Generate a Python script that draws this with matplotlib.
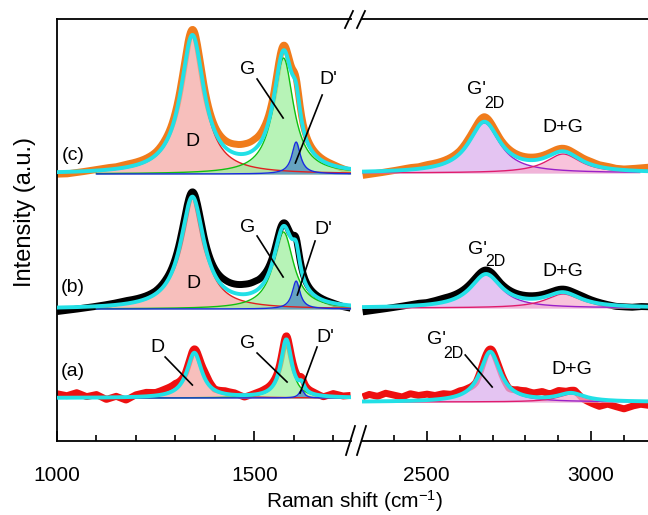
import numpy as np
import matplotlib
matplotlib.use("Agg")
import matplotlib.pyplot as plt
from matplotlib.lines import Line2D

plt.rcParams["font.family"] = ["Liberation Sans", "DejaVu Sans"]
plt.rcParams["mathtext.default"] = "regular"

# ---- peak fit parameters (centre, height, FWHM) ----
# first-order region: D, G, D'
c_left_center = [1343, 1574, 1606]
c_left_height = [137, 116, 32]
c_left_fwhm = [72, 62, 26]
b_left_center = [1343, 1574, 1606]
b_left_height = [111, 77, 28]
b_left_fwhm = [72, 62, 24]
a_left_center = [1348, 1581, 1620]
a_left_height = [45, 58, 8]
a_left_fwhm = [46, 34, 16]

# second-order region: G'2D, D+G
c_right_center = [2675, 2915]
c_right_height = [50, 19]
c_right_fwhm = [115, 130]
b_right_center = [2680, 2915]
b_right_height = [33, 14]
b_right_fwhm = [115, 130]
a_right_center = [2693, 2939]
a_right_height = [50, 8]
a_right_fwhm = [75, 100]

# vertical offsets of each spectrum
c_base = [267, 268]
b_base = [132, 133]
a_base = [43, 39]

# measured - fit, read every 25 cm-1
left_grid = list(range(1000, 1751, 25))
right_grid = list(range(2300, 3176, 25))
c_left_resid = [-2, -2, -1, 0, 1, 2, 2, 3, 3, 3, 3, 4, 4, 4, 6, 4, 5, 7, 9, 10, 10, 8, 4, 5, 6, 4, 3, 2, 1, -1, -3]
b_left_resid = [-4, -3, -2, -1, 0, 1, 2, 3, 3, 3, 3, 4, 4, 4, 5, 4, 6, 8, 9, 10, 10, 8, 4, 3, 4, 3, 2, 1, 0, -2, -3]
a_left_resid = [4, 2, 5, 1, 3, -2, 1, -3, 2, 4, 3, 5, 6, 2, 4, 7, 1, 3, 2, -2, 1, 3, 4, 3, 5, 3, 2, -1, 3, 1, 2]
c_right_resid = [-4, -3, -2, -1, 0, 1, 2, 2, 3, 3, 3, 3, 3, 4, 4, 5, 4, 3, 3, 3, 3, 3, 3, 3, 3, 3, 3, 3, 3, 2, 2, 1, 1, 2, 3, 4]
b_right_resid = [-5, -4, -3, -2, -1, 0, 1, 2, 2, 3, 4, 4, 4, 4, 4, 4, 4, 3, 3, 3, 3, 3, 3, 3, 3, 3, 3, 3, 2, 1, 0, -1, -1, -1, 0, 0]
a_right_resid = [4, 7, 5, 8, 6, 4, 7, 5, 6, 4, 5, 3, 4, 2, -2, 2, 3, 1, -2, 3, 5, 4, 6, 3, 5, 2, 3, -3, -5, -7, -4, -6, -8, -5, -3, -4]

data_colors = ["#f07c1c", "black", "#ee1010"]
fit_color = "#22e0e6"
left_fill = ["#f5aaa6", "#9ff09f", "#4a88c4"]
left_edge = ["#e02020", "#10c010", "#1a2de0"]
right_fill = ["#dcb0ee", "#f6afd0"]
right_edge = ["#9a20c8", "#e01c6c"]


def lorentz(x, x0, h, w):
    return h / (1 + ((x - x0) / (w / 2)) ** 2)


W, H = 648, 515
fig = plt.figure(figsize=(W / 100, H / 100), dpi=100)


def px_rect(x0, x1, ytop, ybot):
    return [x0 / W, 1 - ybot / H, (x1 - x0) / W, (ybot - ytop) / H]


def fpos(px, py):
    return px / W, 1 - py / H


axL = fig.add_axes(px_rect(57, 351, 19, 441))
axR = fig.add_axes(px_rect(362, 648, 19, 441))
axL.set_xlim(1000, 1745)
axR.set_xlim(2303, 3173)
for ax in (axL, axR):
    ax.set_ylim(0, 422)
    ax.set_yticks([])
    for s in ax.spines.values():
        s.set_linewidth(1.3)
axL.spines["right"].set_visible(False)
axR.spines["left"].set_visible(False)
axR.spines["right"].set_visible(False)

axL.set_xticks([1000, 1500])
axL.set_xticks(range(1100, 1800, 100), minor=True)
axR.set_xticks([2500, 3000])
axR.set_xticks([2400, 2600, 2700, 2800, 2900, 3100], minor=True)
for ax in (axL, axR):
    ax.tick_params(axis="x", which="major", direction="in", length=7.5, width=1.2,
                   labelsize=15, pad=18)
    ax.tick_params(axis="x", which="minor", direction="in", length=4, width=1.2)


def draw(ax, xlo, xhi, clo, chi, centers, heights, fwhms, base, grid, resid,
         dcolor, fills, edges):
    xs = np.arange(xlo, xhi, 2.0)
    comps = [lorentz(xs, c, h, w) for c, h, w in zip(centers, heights, fwhms)]
    fit = base + np.sum(comps, axis=0)
    meas = fit + np.interp(xs, grid, resid)
    ax.plot(xs, meas, color=dcolor, lw=5, zorder=1, solid_capstyle="butt")
    xc = np.arange(clo, chi, 2.0)
    for c, h, w, fc, ec in zip(centers, heights, fwhms, fills, edges):
        yc = base + lorentz(xc, c, h, w)
        ax.fill_between(xc, base, yc, color=fc, alpha=0.75, lw=0, zorder=2)
        ax.plot(xc, yc, color=ec, lw=1.0, zorder=3)
    ax.plot(xs, fit, color=fit_color, lw=2.8, zorder=4)


draw(axL, 1000, 1746, 1100, 1746, c_left_center, c_left_height, c_left_fwhm, c_base[0],
     left_grid, c_left_resid, data_colors[0], left_fill, left_edge)
draw(axL, 1000, 1746, 1100, 1746, b_left_center, b_left_height, b_left_fwhm, b_base[0],
     left_grid, b_left_resid, data_colors[1], left_fill, left_edge)
draw(axL, 1000, 1746, 1100, 1746, a_left_center, a_left_height, a_left_fwhm, a_base[0],
     left_grid, a_left_resid, data_colors[2], left_fill, left_edge)
draw(axR, 2305, 3176, 2306, 3150, c_right_center, c_right_height, c_right_fwhm, c_base[1],
     right_grid, c_right_resid, data_colors[0], right_fill, right_edge)
draw(axR, 2305, 3176, 2306, 3150, b_right_center, b_right_height, b_right_fwhm, b_base[1],
     right_grid, b_right_resid, data_colors[1], right_fill, right_edge)
draw(axR, 2305, 3176, 2306, 3150, a_right_center, a_right_height, a_right_fwhm, a_base[1],
     right_grid, a_right_resid, data_colors[2], right_fill, right_edge)

# ---- labels ----
fs = 14
for lab, y in [("(c)", 286), ("(b)", 153), ("(a)", 69)]:
    axL.text(1041, y, lab, fontsize=fs, ha="center", va="center", zorder=6)


def callout(ax, text, xy_text, xy_from=None, xy_to=None):
    ax.text(*xy_text, text, fontsize=fs, ha="center", va="center", zorder=6)
    if xy_from is not None:
        ax.plot([xy_from[0], xy_to[0]], [xy_from[1], xy_to[1]], color="black",
                lw=1.2, zorder=6)


callout(axL, "D", (1343, 299))
callout(axL, "G", (1484, 371), (1507, 362), (1573, 323))
callout(axL, "D'", (1687, 361), (1672, 346), (1604, 278))
callout(axL, "D", (1346, 158))
callout(axL, "G", (1484, 214), (1507, 205), (1573, 164))
callout(axL, "D'", (1675, 211), (1654, 200), (1609, 146))
callout(axL, "D", (1254, 93), (1274, 84), (1343, 56))
callout(axL, "G", (1482, 98), (1507, 88), (1583, 59))
callout(axL, "D'", (1679, 103), (1659, 94), (1616, 48))

callout(axR, "D+G", (2915, 313))
callout(axR, "D+G", (2915, 169))
callout(axR, "D+G", (2942, 71))
axR.plot([2617, 2699], [86, 54], color="black", lw=1.2, zorder=6)

# G'2D labels: main letter and lowered subscript
for gx, gy, sx, sy in [(476, 90, 494, 103), (477, 250, 495, 262), (436, 340, 453, 353)]:
    fig.text(*fpos(gx, gy), "G'", fontsize=fs, ha="center", va="center")
    fig.text(*fpos(sx, sy), "2D", fontsize=11.5, ha="center", va="center")

fig.text(*fpos(25, 212), "Intensity (a.u.)", rotation=90, fontsize=17,
         ha="center", va="center")
fig.text(*fpos(354, 501), "Raman shift (cm$^{-1}$)", fontsize=15,
         ha="center", va="center")

# ---- axis break marks ----
for (x0, y0, x1, y1) in [(345, 28, 353, 11), (357, 28, 365, 11),
                         (346, 455, 355, 426), (357, 455, 366, 426)]:
    fig.add_artist(Line2D([x0 / W, x1 / W], [1 - y0 / H, 1 - y1 / H],
                          color="black", lw=1.3))

fig.savefig("out.png", dpi=100)
